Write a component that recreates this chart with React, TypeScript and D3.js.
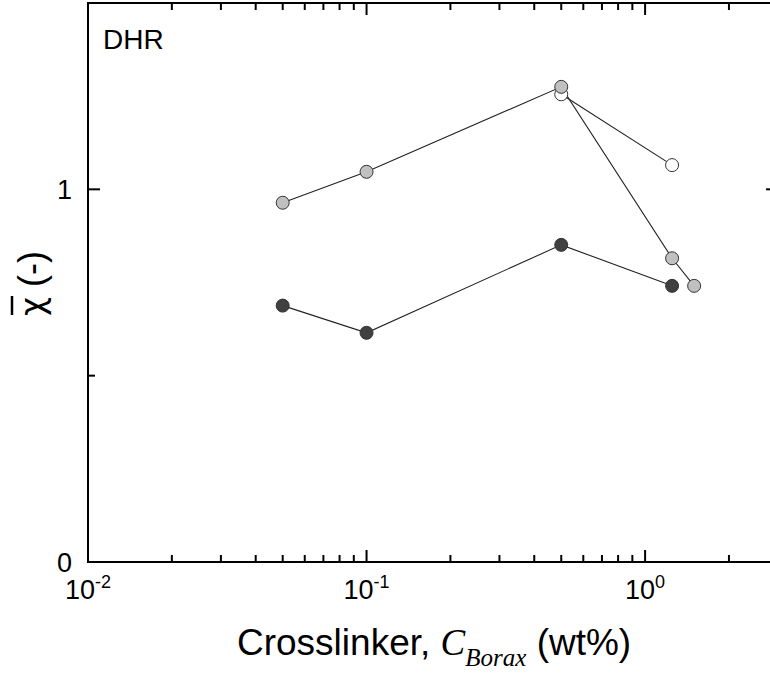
import React from "react";
import * as d3 from "d3";

const grayX = [0.05, 0.1, 0.5, 1.25, 1.5];
const grayY = [0.964, 1.047, 1.275, 0.815, 0.741];
const whiteX = [0.5, 1.25];
const whiteY = [1.255, 1.065];
const darkX = [0.05, 0.1, 0.5, 1.25];
const darkY = [0.688, 0.615, 0.851, 0.741];

const xMajor = [0.01, 0.1, 1];
const xMajorExp = ["-2", "-1", "0"];
const yMajor = [0, 1];
const yMajorLabels = ["0", "1"];
const yMinor = [0.5];

const W = 770, H = 675;
const L = 88, R = 778, T = 3, B = 562;

export default function App() {
  const x = d3.scaleLog().domain([0.01, 3]).range([L, R]);
  const y = d3.scaleLinear().domain([0, 1.5]).range([B, T]);
  const xMinor: number[] = [];
  [0.01, 0.1, 1].forEach((d) => {
    for (let k = 2; k <= 9; k++) {
      const v = d * k;
      if (v < 3) xMinor.push(v);
    }
  });
  const line = d3
    .line<[number, number]>()
    .x((d) => x(d[0]))
    .y((d) => y(d[1]));
  const series = [
    { xs: whiteX, ys: whiteY, fill: "#ffffff" },
    { xs: grayX, ys: grayY, fill: "#c0c0c0" },
    { xs: darkX, ys: darkY, fill: "#404040" },
  ];
  const sans = "Arial, 'Liberation Sans', sans-serif";
  const serif = "'Times New Roman', 'Liberation Serif', serif";
  const majorLen = 12, minorLen = 7;
  return (
    <svg
      width={W}
      height={H}
      style={{ position: "absolute", left: 0, top: 0, background: "#fff" }}
    >
      <rect x={0} y={0} width={W} height={H} fill="#fff" />
      {series.map((s, i) => (
        <path
          key={"l" + i}
          d={line(s.xs.map((v, j) => [v, s.ys[j]]) as [number, number][]) || ""}
          fill="none"
          stroke="#222"
          strokeWidth={1.1}
        />
      ))}
      {series.map((s, i) =>
        s.xs.map((v, j) => (
          <circle
            key={"m" + i + "-" + j}
            cx={x(v)}
            cy={y(s.ys[j])}
            r={6.5}
            fill={s.fill}
            stroke="#333"
            strokeWidth={1}
          />
        ))
      )}
      <rect x={L} y={T} width={R - L} height={B - T} fill="none" stroke="#000" strokeWidth={2} />
      {xMajor.map((v) => (
        <g key={"xM" + v}>
          <line x1={x(v)} x2={x(v)} y1={B} y2={B - majorLen} stroke="#000" strokeWidth={2} />
          <line x1={x(v)} x2={x(v)} y1={T} y2={T + majorLen} stroke="#000" strokeWidth={2} />
        </g>
      ))}
      {xMinor.map((v) => (
        <g key={"xm" + v}>
          <line x1={x(v)} x2={x(v)} y1={B} y2={B - minorLen} stroke="#000" strokeWidth={2} />
          <line x1={x(v)} x2={x(v)} y1={T} y2={T + minorLen} stroke="#000" strokeWidth={2} />
        </g>
      ))}
      {yMajor.map((v) => (
        <g key={"yM" + v}>
          <line x1={L} x2={L + majorLen} y1={y(v)} y2={y(v)} stroke="#000" strokeWidth={2} />
          <line x1={R} x2={R - majorLen} y1={y(v)} y2={y(v)} stroke="#000" strokeWidth={2} />
        </g>
      ))}
      {yMinor.map((v) => (
        <g key={"ym" + v}>
          <line x1={L} x2={L + minorLen} y1={y(v)} y2={y(v)} stroke="#000" strokeWidth={2} />
          <line x1={R} x2={R - minorLen} y1={y(v)} y2={y(v)} stroke="#000" strokeWidth={2} />
        </g>
      ))}
      {xMajor.map((v, i) => (
        <text
          key={"xl" + v}
          x={x(v)}
          y={599}
          fontFamily={sans}
          fontSize={27}
          textAnchor="middle"
          fill="#000"
        >
          10
          <tspan fontSize={18} dy={-11}>
            {xMajorExp[i]}
          </tspan>
        </text>
      ))}
      {yMajor.map((v, i) => (
        <text
          key={"yl" + v}
          x={72}
          y={y(v) + 9.5}
          fontFamily={sans}
          fontSize={27}
          textAnchor="end"
          fill="#000"
        >
          {yMajorLabels[i]}
        </text>
      ))}
      <text x={103} y={49} fontFamily={sans} fontSize={28} fill="#000">
        DHR
      </text>
      <text x={237} y={655} fontFamily={sans} fontSize={37} fill="#000">
        Crosslinker,{" "}
        <tspan fontFamily={serif} fontStyle="italic" fontSize={37}>
          C
        </tspan>
        <tspan fontFamily={serif} fontStyle="italic" fontSize={25} dy={11}>
          Borax
        </tspan>
        <tspan dy={-11}> (wt%)</tspan>
      </text>
      <g transform="translate(44,282) rotate(-90)">
        <text x={-34} y={0} fontFamily={sans} fontSize={36} fill="#000">
          <tspan fontFamily="'DejaVu Sans', sans-serif" fontSize={33}>χ</tspan> (-)
        </text>
        <line x1={-33} x2={-14} y1={-32} y2={-32} stroke="#000" strokeWidth={2.5} />
      </g>
    </svg>
  );
}
